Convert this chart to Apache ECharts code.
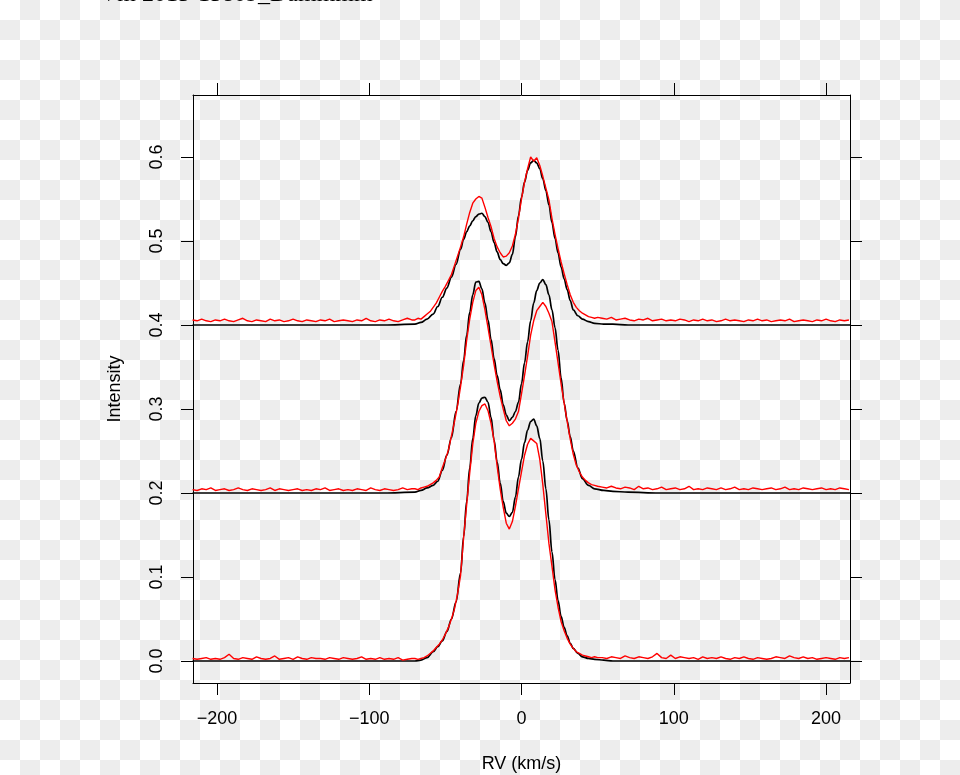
<!DOCTYPE html>
<html><head><meta charset="utf-8">
<script src="https://cdn.jsdelivr.net/npm/echarts@6/dist/echarts.min.js"></script>
<style>
html,body{margin:0;padding:0;width:960px;height:775px;overflow:hidden;
background: conic-gradient(#ededed 0 25%, #ffffff 0 50%, #ededed 0 75%, #ffffff 0) 0 0/40px 40px;}
#c{width:960px;height:775px;}
</style></head><body><div id="c"></div>
<script>
// ---- data ----
const titleText = 'Vm 2015-15809_Dammmm';
const xTicks = [-200, -100, 0, 100, 200];
const yTicks = [0, 0.1, 0.2, 0.3, 0.4, 0.5, 0.6];
const offsets = [0, 0.2, 0.4];

// model (black) profiles
const modelRV = [-216,-90,-70,-66,-62,-58,-55,-52,-49,-46,-43,-40,-38,-36,-34,-32,-30,-28,-26,-24,-22,-20,-18,-16,-14,-12,-10,-8,-6,-4,-2,0,2,4,6,8,10,12,14,16,18,20,22,24,26,28,30,32,34,37,40,44,48,54,60,70,90,216];
const model0 = [0,0,0,0.001,0.004,0.011,0.017,0.024,0.035,0.05,
  0.07,0.105,0.148,0.19,0.23,0.265,0.292,0.307,0.313,0.314,
  0.308,0.29,0.263,0.237,0.212,0.19,0.176,0.172,0.177,0.195,
  0.219,0.24,0.26,0.275,0.285,0.288,0.28,0.265,0.238,0.205,
  0.168,0.13,0.097,0.072,0.053,0.04,0.03,0.021,0.015,0.009,
  0.005,0.003,0.002,0.001,0,0,0,0];
const model1 = [0,0,0.001,0.003,0.006,0.009,0.014,0.027,0.045,0.066,
  0.097,0.13,0.158,0.188,0.215,0.236,0.251,0.252,0.243,0.226,
  0.206,0.183,0.16,0.14,0.123,0.105,0.093,0.086,0.09,0.097,
  0.108,0.13,0.155,0.18,0.205,0.226,0.241,0.25,0.254,0.248,
  0.236,0.218,0.197,0.17,0.137,0.107,0.086,0.067,0.05,0.03,
  0.017,0.009,0.005,0.003,0.002,0.001,0,0];
const model2 = [0,0,0.001,0.003,0.007,0.013,0.022,0.033,0.044,0.057,
  0.072,0.09,0.102,0.111,0.118,0.124,0.129,0.132,0.133,0.129,
  0.122,0.111,0.098,0.087,0.078,0.073,0.071,0.074,0.084,0.105,
  0.13,0.152,0.17,0.184,0.193,0.196,0.193,0.186,0.174,0.16,
  0.143,0.122,0.103,0.086,0.069,0.055,0.042,0.029,0.018,0.011,
  0.007,0.004,0.002,0.001,0.001,0,0,0];

// observed (red) profiles
const obsRvLeft = [-216,-213,-210,-207,-204,-201,-198,-195,-192,-189,-186,-183,-180,-177,-174,-171,-168,-165,-162,-159,-156,-153,-150,-147,-144,-141,-138,-135,-132,-129,-126,-123,-120,-117,-114,-111,-108,-105,-102,-99,-96,-93,-90,-87,-84,-81,-78,-75,-72];
const obsRvCore = [-70,-68,-66,-64,-62,-60,-58,-56,-54,-52,-50,-48,-46,-44,-42,-40,-38,-36,-34,-32,-30,-28,-26,-24,-22,-20,-18,-16,-14,-12,-10,-8,-6,-4,-2,0,2,4,6,8,10,12,14,16,18,20,22,24,26,28,30,32,34,36,38,40,42,44,46,48,50];
const obsRvRight = [53,56,59,62,65,68,71,74,77,80,83,86,89,92,95,98,101,104,107,110,113,116,119,122,125,128,131,134,137,140,143,146,149,152,155,158,161,164,167,170,173,176,179,182,185,188,191,194,197,200,203,206,209,212,215];

const obs0Left = [0.003,0.002,0.003,0.004,0.002,0.003,0.002,0.004,0.008,0.003,0.002,0.004,0.003,0.002,0.005,0.003,0.002,0.003,0.006,0.002,0.003,0.004,0.002,0.005,0.003,0.002,0.004,0.003,0.003,0.002,0.004,0.003,0.002,0.004,0.003,0.002,0.003,0.005,0.002,0.003,0.002,0.004,0.002,0.003,0.002,0.004,0.001,0.002,0.003];
const obs0Core = [0.003,0.002,0.003,0.004,0.006,0.009,0.012,0.016,0.02,0.025,
  0.032,0.04,0.05,0.062,0.08,0.102,0.147,0.186,0.224,0.258,
  0.283,0.297,0.304,0.306,0.298,0.283,0.262,0.232,0.205,0.183,
  0.164,0.157,0.166,0.184,0.205,0.225,0.245,0.258,0.265,0.262,
  0.259,0.24,0.21,0.175,0.14,0.113,0.085,0.064,0.047,0.036,
  0.027,0.02,0.015,0.011,0.009,0.007,0.006,0.005,0.004,0.005,0.004];
const obs0Right = [0.004,0.003,0.005,0.004,0.003,0.006,0.004,0.003,0.005,0.004,0.003,0.005,0.009,0.004,0.003,0.007,0.003,0.005,0.004,0.003,0.004,0.002,0.005,0.003,0.004,0.003,0.005,0.003,0.002,0.004,0.003,0.005,0.003,0.002,0.004,0.003,0.002,0.003,0.005,0.004,0.003,0.006,0.004,0.003,0.005,0.003,0.004,0.002,0.003,0.004,0.003,0.002,0.004,0.003,0.004];

const obs1Left = [0.004,0.003,0.005,0.004,0.006,0.003,0.004,0.005,0.003,0.004,0.006,0.004,0.003,0.005,0.004,0.003,0.004,0.006,0.003,0.005,0.004,0.003,0.004,0.005,0.003,0.004,0.003,0.005,0.004,0.006,0.003,0.004,0.005,0.003,0.004,0.003,0.005,0.004,0.003,0.006,0.004,0.003,0.005,0.004,0.003,0.004,0.006,0.004,0.005];
const obs1Core = [0.005,0.004,0.006,0.007,0.008,0.01,0.012,0.015,0.019,0.03,
  0.04,0.051,0.068,0.085,0.104,0.127,0.152,0.182,0.207,0.227,
  0.241,0.245,0.236,0.218,0.197,0.175,0.153,0.133,0.115,0.1,
  0.086,0.08,0.083,0.088,0.097,0.118,0.14,0.163,0.188,0.205,
  0.217,0.222,0.227,0.222,0.214,0.204,0.18,0.155,0.13,0.107,
  0.085,0.064,0.046,0.033,0.025,0.019,0.015,0.012,0.01,0.009,0.008];
const obs1Right = [0.007,0.006,0.008,0.006,0.005,0.007,0.006,0.004,0.008,0.005,0.006,0.004,0.005,0.007,0.004,0.005,0.006,0.004,0.005,0.008,0.004,0.005,0.004,0.006,0.005,0.004,0.006,0.004,0.005,0.007,0.004,0.005,0.004,0.006,0.005,0.004,0.005,0.006,0.004,0.005,0.007,0.004,0.005,0.004,0.006,0.005,0.004,0.005,0.006,0.004,0.005,0.004,0.006,0.005,0.004];

const obs2Left = [0.006,0.005,0.007,0.005,0.004,0.006,0.005,0.007,0.005,0.004,0.006,0.008,0.005,0.004,0.006,0.005,0.004,0.007,0.005,0.006,0.004,0.005,0.007,0.005,0.004,0.006,0.005,0.004,0.006,0.005,0.007,0.004,0.005,0.006,0.005,0.004,0.006,0.005,0.008,0.005,0.004,0.006,0.005,0.007,0.005,0.004,0.006,0.008,0.006];
const obs2Core = [0.006,0.008,0.007,0.01,0.013,0.016,0.021,0.026,0.033,0.04,
  0.046,0.053,0.06,0.071,0.082,0.093,0.105,0.12,0.134,0.145,
  0.15,0.153,0.151,0.14,0.128,0.117,0.103,0.093,0.086,0.081,
  0.082,0.086,0.094,0.108,0.127,0.15,0.17,0.186,0.2,0.195,
  0.199,0.19,0.177,0.163,0.149,0.127,0.108,0.091,0.075,0.061,
  0.048,0.036,0.027,0.021,0.017,0.014,0.012,0.01,0.009,0.008,0.009];
const obs2Right = [0.008,0.007,0.009,0.006,0.007,0.008,0.006,0.005,0.007,0.006,0.008,0.005,0.006,0.007,0.005,0.006,0.005,0.007,0.006,0.004,0.006,0.005,0.007,0.005,0.006,0.004,0.005,0.007,0.005,0.006,0.005,0.004,0.006,0.005,0.007,0.005,0.006,0.004,0.005,0.006,0.005,0.007,0.004,0.005,0.006,0.005,0.004,0.006,0.005,0.007,0.005,0.004,0.006,0.005,0.006];

// ---- build ----
function pairs(xs, ys, off) {
  const n = Math.min(xs.length, ys.length), out = [];
  for (let i = 0; i < n; i++) out.push([xs[i], +(ys[i] + off).toFixed(4)]);
  return out;
}
function obsPairs(L, C, R, off) {
  return pairs(obsRvLeft, L, off).concat(pairs(obsRvCore, C, off), pairs(obsRvRight, R, off));
}
const models = [model0, model1, model2];
const obs = [[obs0Left, obs0Core, obs0Right], [obs1Left, obs1Core, obs1Right], [obs2Left, obs2Core, obs2Right]];

const FF = '"Liberation Sans", Arial, Helvetica, sans-serif';
const XMIN = -215.7, XMAX = 215.7, YMIN = -0.0262, YMAX = 0.6738;
const minus = v => String(v).replace('-', '\u2212');

const series = [];
for (let k = 0; k < 3; k++) {
  series.push({type: 'line', xAxisIndex: 0, yAxisIndex: 0, showSymbol: false, symbol: 'none',
    smooth: 0.35, smoothMonotone: 'x',
    data: pairs(modelRV, models[k], offsets[k]), lineStyle: {color: '#000000', width: 1.7}, z: 2 + k * 2});
  series.push({type: 'line', xAxisIndex: 0, yAxisIndex: 0, showSymbol: false, symbol: 'none',
    data: obsPairs(obs[k][0], obs[k][1], obs[k][2], offsets[k]), lineStyle: {color: '#ff0000', width: 1.4}, z: 3 + k * 2});
}

const lineStyleAx = {color: '#000000', width: 1};
const chart = echarts.init(document.getElementById('c'), null, {renderer: 'canvas'});
chart.setOption({
  animation: false,
  backgroundColor: 'transparent',
  grid: {left: 193, top: 95, width: 657, height: 588, containLabel: false, outerBoundsMode: 'none'},
  graphic: [{type: 'text', left: 100, top: -17, silent: true,
    style: {text: titleText, font: '24px "Liberation Serif", serif', fill: '#000'}}],
  xAxis: [
    {type: 'value', position: 'bottom', min: XMIN, max: XMAX,
     axisLine: {show: true, onZero: false, lineStyle: lineStyleAx},
     axisTick: {show: true, length: 12, customValues: xTicks, lineStyle: lineStyleAx},
     axisLabel: {show: true, customValues: xTicks, formatter: minus, fontSize: 18, color: '#000', margin: 27, fontFamily: FF},
     splitLine: {show: false},
     name: 'RV (km/s)', nameLocation: 'middle', nameGap: 72,
     nameTextStyle: {fontSize: 18, color: '#000', fontFamily: FF}},
    {type: 'value', position: 'top', min: XMIN, max: XMAX,
     axisLine: {show: true, onZero: false, lineStyle: lineStyleAx},
     axisTick: {show: true, length: 12, customValues: xTicks, lineStyle: lineStyleAx},
     axisLabel: {show: false}, splitLine: {show: false}}
  ],
  yAxis: [
    {type: 'value', position: 'left', min: YMIN, max: YMAX,
     axisLine: {show: true, onZero: false, lineStyle: lineStyleAx},
     axisTick: {show: true, length: 12, customValues: yTicks, lineStyle: lineStyleAx},
     axisLabel: {show: true, customValues: yTicks, rotate: 90, formatter: v => v.toFixed(1), fontSize: 18, color: '#000', margin: 27, fontFamily: FF},
     splitLine: {show: false},
     name: 'Intensity', nameLocation: 'middle', nameGap: 69, nameRotate: 90,
     nameTextStyle: {fontSize: 18, color: '#000', fontFamily: FF}},
    {type: 'value', position: 'right', min: YMIN, max: YMAX,
     axisLine: {show: true, onZero: false, lineStyle: lineStyleAx},
     axisTick: {show: true, length: 12, customValues: yTicks, lineStyle: lineStyleAx},
     axisLabel: {show: false}, splitLine: {show: false}}
  ],
  series: series
});
</script></body></html>
